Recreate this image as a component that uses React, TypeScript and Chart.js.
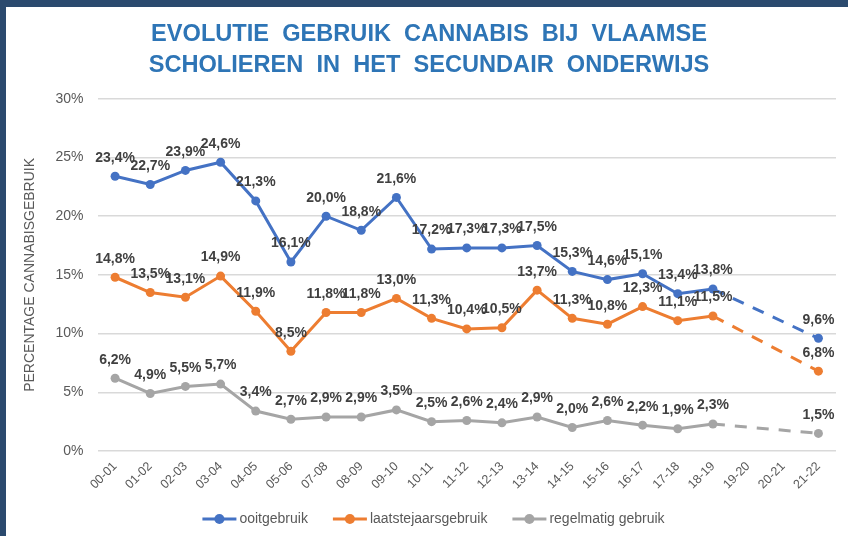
import React, { useEffect, useRef } from "react";
import { Chart, registerables } from "chart.js";

Chart.register(...registerables);

const categories = [
  "00-01", "01-02", "02-03", "03-04", "04-05", "05-06", "07-08", "08-09", "09-10", "10-11",
  "11-12", "12-13", "13-14", "14-15", "15-16", "16-17", "17-18", "18-19", "19-20", "20-21", "21-22",
];
const ooitgebruik = [23.4, 22.7, 23.9, 24.6, 21.3, 16.1, 20.0, 18.8, 21.6, 17.2, 17.3, 17.3, 17.5, 15.3, 14.6, 15.1, 13.4, 13.8, null, null, 9.6];
const laatstejaarsgebruik = [14.8, 13.5, 13.1, 14.9, 11.9, 8.5, 11.8, 11.8, 13.0, 11.3, 10.4, 10.5, 13.7, 11.3, 10.8, 12.3, 11.1, 11.5, null, null, 6.8];
const regelmatigGebruik = [6.2, 4.9, 5.5, 5.7, 3.4, 2.7, 2.9, 2.9, 3.5, 2.5, 2.6, 2.4, 2.9, 2.0, 2.6, 2.2, 1.9, 2.3, null, null, 1.5];
const seriesNames = ["ooitgebruik", "laatstejaarsgebruik", "regelmatig gebruik"];
const seriesColors = ["#4472C4", "#ED7D31", "#A5A5A5"];
const titleLines = ["EVOLUTIE  GEBRUIK  CANNABIS  BIJ  VLAAMSE", "SCHOLIEREN  IN  HET  SECUNDAIR  ONDERWIJS"];
const yAxisTitle = "PERCENTAGE CANNABISGEBRUIK";
const yMin = 0;
const yMax = 30;
const yStep = 5;

const FONT = '"Liberation Sans", Arial, sans-serif';

const valueLabelPlugin = {
  id: "valueLabels",
  afterDatasetsDraw(chart: any) {
    const ctx = chart.ctx;
    ctx.save();
    ctx.font = `bold 14px ${FONT}`;
    ctx.fillStyle = "#404040";
    ctx.textAlign = "center";
    ctx.textBaseline = "middle";
    chart.data.datasets.forEach((ds: any, i: number) => {
      const meta = chart.getDatasetMeta(i);
      meta.data.forEach((pt: any, j: number) => {
        const v = ds.data[j];
        if (v == null) return;
        ctx.fillText(v.toFixed(1).replace(".", ",") + "%", pt.x, pt.y - 18.5);
      });
    });
    ctx.restore();
  },
};

const customLegendPlugin = {
  id: "customLegend",
  afterDraw(chart: any) {
    const ctx = chart.ctx;
    ctx.save();
    ctx.font = `14px ${FONT}`;
    ctx.textBaseline = "middle";
    const markerW = 34;
    const gapText = 3;
    const gapItem = 25;
    const items = chart.data.datasets.map((ds: any) => ({
      label: ds.label,
      color: ds.borderColor,
      w: markerW + gapText + ctx.measureText(ds.label).width,
    }));
    const total = items.reduce((a: number, it: any) => a + it.w, 0) + gapItem * (items.length - 1);
    let x = chart.width / 2 + 9.5 - total / 2;
    const y = 519;
    items.forEach((it: any) => {
      ctx.strokeStyle = it.color;
      ctx.lineWidth = 3;
      ctx.beginPath();
      ctx.moveTo(x, y);
      ctx.lineTo(x + markerW, y);
      ctx.stroke();
      ctx.fillStyle = it.color;
      ctx.beginPath();
      ctx.arc(x + markerW / 2, y, 5, 0, Math.PI * 2);
      ctx.fill();
      ctx.fillStyle = "#595959";
      ctx.textAlign = "left";
      ctx.fillText(it.label, x + markerW + gapText, y);
      x += it.w + gapItem;
    });
    ctx.restore();
  },
};

export default function App() {
  const ref = useRef<HTMLCanvasElement>(null);

  useEffect(() => {
    document.body.style.margin = "0";
    const seriesData = [ooitgebruik, laatstejaarsgebruik, regelmatigGebruik];
    const chart = new Chart(ref.current!, {
      type: "line",
      data: {
        labels: categories,
        datasets: seriesData.map((d, i) => ({
          label: seriesNames[i],
          data: d,
          borderColor: seriesColors[i],
          backgroundColor: seriesColors[i],
          borderWidth: 3,
          pointRadius: 4.5,
          pointHoverRadius: 4.5,
          pointBorderWidth: 0,
          spanGaps: true,
          tension: 0,
          segment: {
            borderDash: (ctx: any) => (ctx.p0.skip || ctx.p1.skip ? [12, 10] : undefined),
          },
        })),
      },
      options: {
        animation: false,
        responsive: false,
        maintainAspectRatio: false,
        layout: { padding: { left: 22, right: 12, top: 0, bottom: 38 } },
        plugins: {
          title: {
            display: true,
            text: titleLines,
            color: "#2E75B6",
            font: { family: '"Liberation Sans Narrow", "Arial Narrow", ' + FONT, size: 23.6, weight: "bold", lineHeight: 1.32 },
            padding: { top: 19, bottom: 17.5 },
          },
          legend: { display: false },
          tooltip: { enabled: false },
        },
        scales: {
          y: {
            min: yMin,
            max: yMax,
            ticks: {
              stepSize: yStep,
              color: "#595959",
              font: { family: FONT, size: 14 },
              padding: 14,
              callback: (v: any) => v + "%",
            },
            grid: { color: "#D9D9D9", lineWidth: 1.5, drawTicks: false },
            border: { display: false },
            title: {
              display: true,
              text: yAxisTitle,
              color: "#595959",
              font: { family: FONT, size: 14 },
              padding: { top: 0, bottom: 0 },
            },
            afterFit: (s: any) => {
              s.width = 75.5;
            },
          },
          x: {
            offset: true,
            ticks: {
              color: "#595959",
              font: { family: FONT, size: 12.5 },
              minRotation: 45,
              maxRotation: 45,
              padding: 0,
            },
            grid: { display: false },
            border: { display: false },
            afterFit: (s: any) => {
              s.height = 47;
            },
          },
        },
      },
      plugins: [valueLabelPlugin, customLegendPlugin],
    } as any);
    return () => chart.destroy();
  }, []);

  return (
    <div style={{ position: "relative", width: 848, height: 536, background: "#fff", overflow: "hidden" }}>
      <canvas ref={ref} width={848} height={536} style={{ display: "block", width: 848, height: 536 }} />
      <div style={{ position: "absolute", left: 0, top: 0, width: 848, height: 7, background: "#2B4A6E" }} />
      <div style={{ position: "absolute", left: 0, top: 0, width: 6, height: 536, background: "#2B4A6E" }} />
    </div>
  );
}
